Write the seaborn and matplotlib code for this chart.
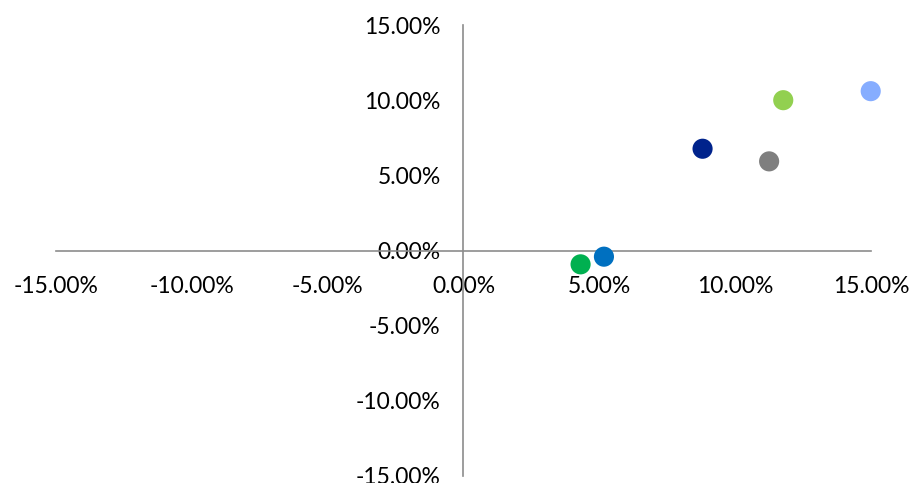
import matplotlib
matplotlib.use("Agg")
import matplotlib.pyplot as plt
import seaborn as sns
import pandas as pd
from matplotlib.ticker import FuncFormatter, FixedLocator

sns.set_style("white")
plt.rcParams['font.family'] = ['Lato', 'DejaVu Sans']

names = ["A", "B", "C", "D", "E", "F"]
x_vals = [14.99, 11.77, 8.80, 11.25, 5.17, 4.31]
y_vals = [10.60, 10.00, 6.77, 5.93, -0.41, -0.92]
colors = ["#86ADFF", "#92D050", "#00238C", "#7F7F7F", "#0070C0", "#00B050"]
ticks = [-15, -10, -5, 0, 5, 10, 15]

df = pd.DataFrame({"name": names, "x": x_vals, "y": y_vals})

fig = plt.figure(figsize=(9.15, 4.83), dpi=100)
ax = fig.add_axes([0.0612, 0.0145, 0.8907, 0.9337])

sns.scatterplot(data=df, x="x", y="y", hue="name", palette=colors,
                s=210, edgecolor="none", legend=False, ax=ax, zorder=3,
                clip_on=False)

ax.set_xlim(-15, 15)
ax.set_ylim(-15, 15)
ax.xaxis.set_major_locator(FixedLocator(ticks))
ax.yaxis.set_major_locator(FixedLocator(ticks))
fmt = FuncFormatter(lambda v, p: f"{v:.2f}%")
ax.xaxis.set_major_formatter(fmt)
ax.yaxis.set_major_formatter(fmt)

for side in ["top", "right"]:
    ax.spines[side].set_visible(False)
ax.spines["left"].set_position(("data", 0))
ax.spines["bottom"].set_position(("data", 0))
for side in ["left", "bottom"]:
    ax.spines[side].set_color("#8C8C8C")
    ax.spines[side].set_linewidth(1.2)
    ax.spines[side].set_zorder(1)

ax.tick_params(axis="both", direction="out", length=5.5, width=1.2,
               color="#8C8C8C", labelsize=16.5, labelcolor="black")
ax.tick_params(axis="x", pad=13)
ax.tick_params(axis="y", pad=11)
ax.set_xlabel("")
ax.set_ylabel("")
ax.grid(False)
ax.set_facecolor("none")

fig.savefig("out.png", dpi=100)
